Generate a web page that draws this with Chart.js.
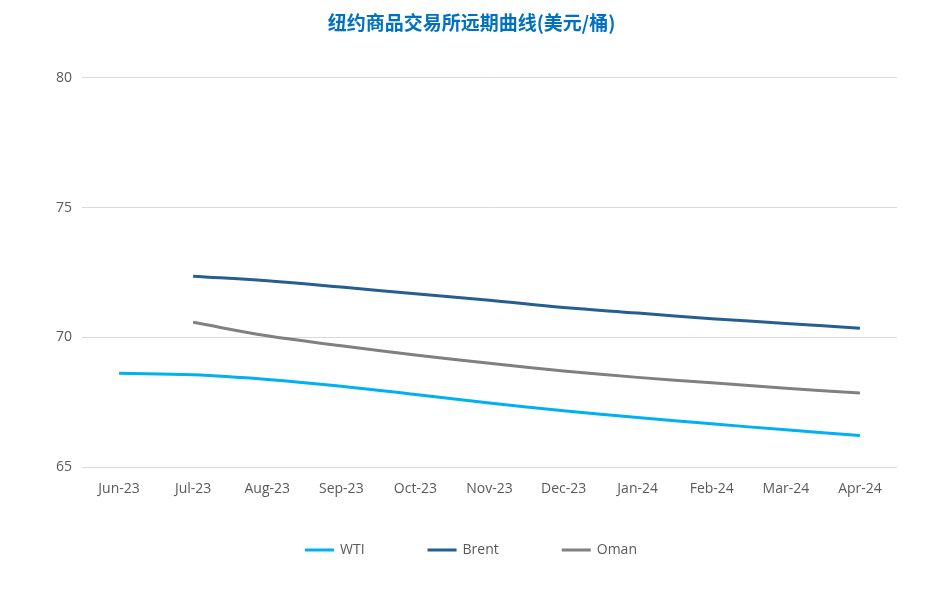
<!DOCTYPE html>
<html>
<head>
<meta charset="utf-8">
<script src="https://cdn.jsdelivr.net/npm/chart.js@4"></script>
<style>
  body { margin: 0; background: #fff; }
  #wrap { width: 937px; height: 601px; }
</style>
</head>
<body>
<div id="wrap"><canvas id="curve-chart" width="937" height="601"></canvas></div>
<script>
const months = ["Jun-23", "Jul-23", "Aug-23", "Sep-23", "Oct-23", "Nov-23", "Dec-23", "Jan-24", "Feb-24", "Mar-24", "Apr-24"];
const wti = [68.62, 68.56, 68.38, 68.12, 67.80, 67.47, 67.17, 66.91, 66.67, 66.44, 66.22];
const brent = [null, 72.36, 72.18, 71.94, 71.68, 71.43, 71.15, 70.94, 70.72, 70.54, 70.35];
const oman = [null, 70.58, 70.06, 69.68, 69.32, 69.00, 68.71, 68.46, 68.25, 68.04, 67.86];
const yTicks = [65, 70, 75, 80];

const tickFont = { family: "'Open Sans', 'Noto Sans', sans-serif", size: 14 };

function lineSet(label, data, color) {
  return {
    label: label,
    data: data,
    borderColor: color,
    backgroundColor: color,
    borderWidth: 3,
    pointRadius: 0,
    tension: 0.4,
    fill: false,
    spanGaps: false
  };
}

// x axis is squeezed so the legend sits closer; give its labels room to draw again
const keepXLabels = {
  id: 'keepXLabels',
  afterLayout(chart) {
    const x = chart.scales.x;
    x.bottom = x.top + 40;
  }
};

const ctx = document.getElementById('curve-chart').getContext('2d');
window.myChart = new Chart(ctx, {
  type: 'line',
  data: {
    labels: months,
    datasets: [
      lineSet("WTI", wti, "#00B0F0"),
      lineSet("Brent", brent, "#255E91"),
      lineSet("Oman", oman, "#808080")
    ]
  },
  options: {
    responsive: false,
    animation: false,
    layout: { padding: { left: 46, right: 40, top: 8, bottom: 34 } },
    plugins: {
      title: {
        display: true,
        text: "纽约商品交易所远期曲线(美元/桶)",
        color: "#0070C0",
        font: { family: "'Noto Sans CJK SC', sans-serif", size: 19, weight: 'bold' },
        padding: { top: 3, bottom: 44 }
      },
      legend: {
        position: 'bottom',
        labels: {
          boxWidth: 27,
          boxHeight: 1,
          padding: 64,
          color: "#595959",
          font: tickFont,
          generateLabels: (chart) => chart.data.datasets.map((ds, i) => ({
            text: ds.label,
            fillStyle: ds.borderColor,
            strokeStyle: ds.borderColor,
            lineWidth: 2,
            hidden: false,
            datasetIndex: i,
            fontColor: "#595959"
          }))
        }
      },
      tooltip: { enabled: false }
    },
    scales: {
      x: {
        offset: true,
        grid: { display: false },
        border: { display: false },
        ticks: { color: "#595959", font: tickFont, padding: 5, maxRotation: 0 },
        afterFit: (axis) => { axis.height -= 23; }
      },
      y: {
        min: 65,
        max: 80,
        afterBuildTicks: (axis) => { axis.ticks = yTicks.map(v => ({ value: v })); },
        grid: { color: "#D9D9D9", drawTicks: false },
        border: { display: false },
        ticks: { color: "#595959", font: tickFont, padding: 10 }
      }
    }
  },
  plugins: [keepXLabels]
});
</script>
</body>
</html>
